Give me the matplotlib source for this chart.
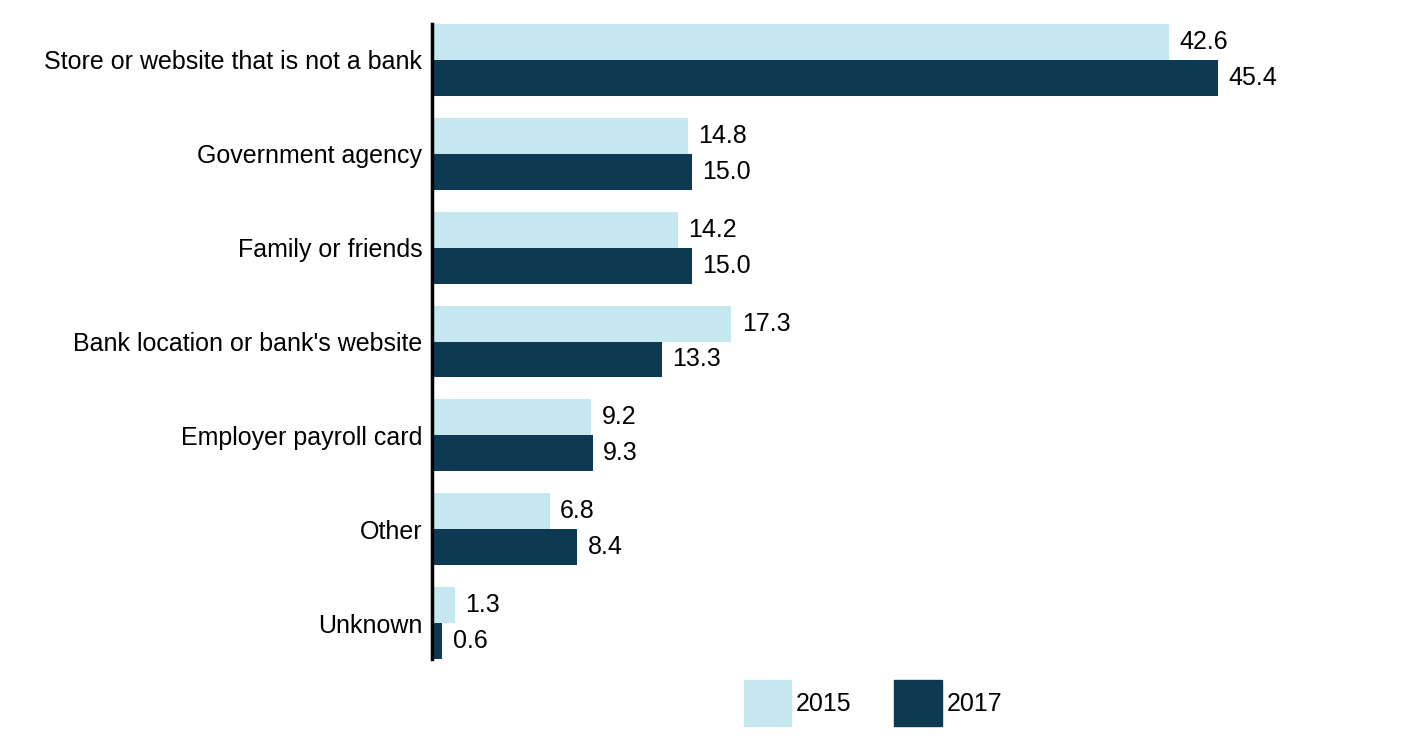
import numpy as np
import matplotlib.pyplot as plt
from matplotlib.patches import Patch

plt.rcParams['font.family'] = ['Liberation Sans', 'DejaVu Sans']

categories = ['Store or website that is not a bank', 'Government agency', 'Family or friends',
              "Bank location or bank's website", 'Employer payroll card', 'Other', 'Unknown']
v2015 = [42.6, 14.8, 14.2, 17.3, 9.2, 6.8, 1.3]
v2017 = [45.4, 15.0, 15.0, 13.3, 9.3, 8.4, 0.6]
years = ['2015', '2017']

c15 = '#c4e7f0'
c17 = '#0d3a52'

fig = plt.figure(figsize=(14.08, 7.44), dpi=100)
ax = fig.add_axes([432 / 1408, 85 / 744, 900 / 1408, 635 / 744])

y = np.arange(len(categories))
h = 0.383
ax.barh(y - h / 2, v2015, height=h, color=c15)
ax.barh(y + h / 2, v2017, height=h, color=c17)

for i in range(len(categories)):
    ax.text(v2015[i] + 0.6, y[i] - h / 2, '%.1f' % v2015[i], va='center', ha='left', fontsize=18)
    ax.text(v2017[i] + 0.6, y[i] + h / 2, '%.1f' % v2017[i], va='center', ha='left', fontsize=18)

ax.set_xlim(0, 900 / 17.31)
ax.set_ylim(len(categories) - 1 + h, -h)
ax.set_yticks(y)
ax.set_yticklabels(categories, fontsize=18)
ax.tick_params(axis='y', length=0, pad=7)
ax.set_xticks([])
for s in ['top', 'right', 'bottom']:
    ax.spines[s].set_visible(False)
ax.spines['left'].set_linewidth(2.5)

handles = [Patch(color=c15), Patch(color=c17)]
fig.legend(handles, years, loc='center', bbox_to_anchor=(873 / 1408, 1 - 703 / 744), ncol=2,
           frameon=False, fontsize=18, handlelength=1.9, handleheight=2.45,
           handletextpad=0.2, columnspacing=1.7)

fig.savefig('out.png', dpi=100)
